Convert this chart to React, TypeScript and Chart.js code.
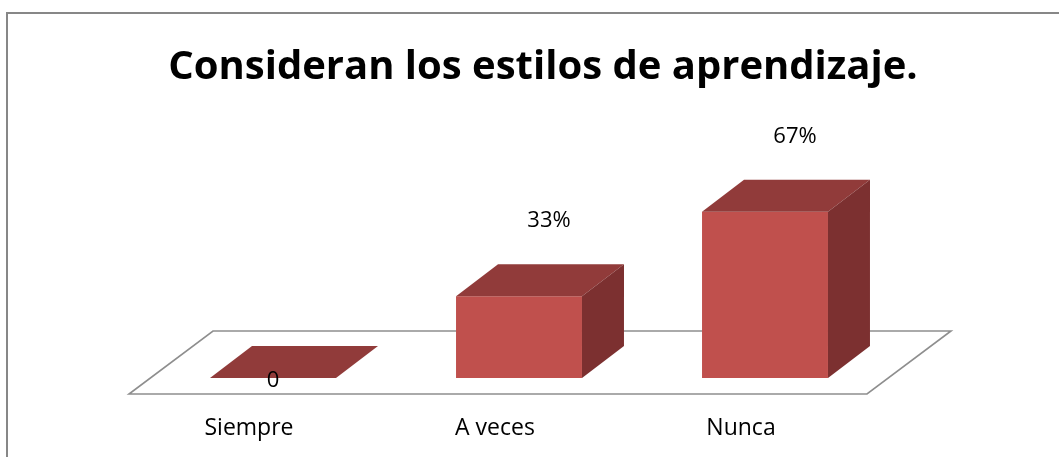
import React, { useEffect, useRef } from "react";
import { Chart, registerables } from "chart.js";

Chart.register(...registerables);

const categories = ["Siempre", "A veces", "Nunca"];
const values = [0, 33, 67];
const valueLabels = ["0", "33%", "67%"];
const titleText = "Consideran los estilos de aprendizaje.";

const W = 1059;
const H = 457;
// 3D projection offsets (pixels)
const BAR_DX = 42;
const BAR_DY = 32;
const FLOOR_MX = 21;
const FLOOR_MY = 16;

const FRONT = "#C0504D";
const TOP = "#913B3A";
const SIDE = "#7C3030";
const FLOOR_LINE = "#8E8E8E";
const FONT = "'Open Sans', 'Noto Sans', sans-serif";

export default function App() {
  const ref = useRef<HTMLCanvasElement | null>(null);

  useEffect(() => {
    document.body.style.margin = "0";
    const canvas = ref.current;
    if (!canvas) return;

    const plugin = {
      id: "excel3d",
      beforeDraw(chart: any) {
        const ctx = chart.ctx;
        ctx.save();
        ctx.fillStyle = "#ffffff";
        ctx.fillRect(0, 0, W, H);
        ctx.strokeStyle = "#878787";
        ctx.lineWidth = 2;
        ctx.strokeRect(7, 13, W + 40, H + 40);
        ctx.fillStyle = "#000000";
        ctx.font = `bold 40px ${FONT}`;
        ctx.textAlign = "center";
        ctx.textBaseline = "alphabetic";
        ctx.fillText(titleText, 543, 79);
        ctx.restore();
      },
      beforeDatasetsDraw(chart: any) {
        const ctx = chart.ctx;
        const { left, right, bottom } = chart.chartArea;
        const fx0 = left - FLOOR_MX;
        const fx1 = right - FLOOR_MX;
        const fy = bottom + FLOOR_MY;
        const dx = FLOOR_MX * 2 + BAR_DX;
        const dy = FLOOR_MY * 2 + BAR_DY - 1;
        ctx.save();
        ctx.strokeStyle = FLOOR_LINE;
        ctx.lineWidth = 1.6;
        ctx.beginPath();
        ctx.moveTo(fx0, fy);
        ctx.lineTo(fx1, fy);
        ctx.lineTo(fx1 + dx, fy - dy);
        ctx.lineTo(fx0 + dx, fy - dy);
        ctx.closePath();
        ctx.stroke();
        ctx.restore();
      },
      afterDatasetsDraw(chart: any) {
        const ctx = chart.ctx;
        const meta = chart.getDatasetMeta(0);
        const { bottom } = chart.chartArea;
        ctx.save();
        meta.data.forEach((bar: any, i: number) => {
          const { x, y, base, width } = bar.getProps(["x", "y", "base", "width"], true);
          const l = x - width / 2;
          const r = x + width / 2;
          // top face
          ctx.fillStyle = TOP;
          ctx.beginPath();
          ctx.moveTo(l, y);
          ctx.lineTo(r, y);
          ctx.lineTo(r + BAR_DX, y - BAR_DY);
          ctx.lineTo(l + BAR_DX, y - BAR_DY);
          ctx.closePath();
          ctx.fill();
          // side face
          if (base - y > 0.5) {
            ctx.fillStyle = SIDE;
            ctx.beginPath();
            ctx.moveTo(r, y);
            ctx.lineTo(r + BAR_DX, y - BAR_DY);
            ctx.lineTo(r + BAR_DX, base - BAR_DY);
            ctx.lineTo(r, base);
            ctx.closePath();
            ctx.fill();
          }
          // value label
          ctx.fillStyle = "#000000";
          ctx.font = `22px ${FONT}`;
          ctx.textAlign = "center";
          ctx.textBaseline = "alphabetic";
          if (values[i] === 0) {
            ctx.fillText(valueLabels[i], x, y + 9);
          } else {
            ctx.fillText(valueLabels[i], x + 30, y - 69);
          }
          // category label
          ctx.font = `23px ${FONT}`;
          ctx.fillText(categories[i], x - FLOOR_MX - 3, bottom + 57);
        });
        ctx.restore();
      },
    };

    const chart = new Chart(canvas, {
      type: "bar",
      data: {
        labels: categories,
        datasets: [
          {
            data: values,
            backgroundColor: FRONT,
            borderWidth: 0,
            barPercentage: 0.512,
            categoryPercentage: 1,
          },
        ],
      },
      options: {
        responsive: false,
        animation: false,
        devicePixelRatio: 1,
        layout: { padding: { left: 150, right: W - 888, top: 130, bottom: H - 378 } },
        plugins: { legend: { display: false }, tooltip: { enabled: false }, title: { display: false } },
        scales: {
          x: { display: false, offset: true, grid: { display: false } },
          y: { display: false, min: 0, max: 100, grid: { display: false } },
        },
      },
      plugins: [plugin],
    });
    return () => chart.destroy();
  }, []);

  return <canvas ref={ref} width={W} height={H} style={{ display: "block", width: W, height: H }} />;
}
